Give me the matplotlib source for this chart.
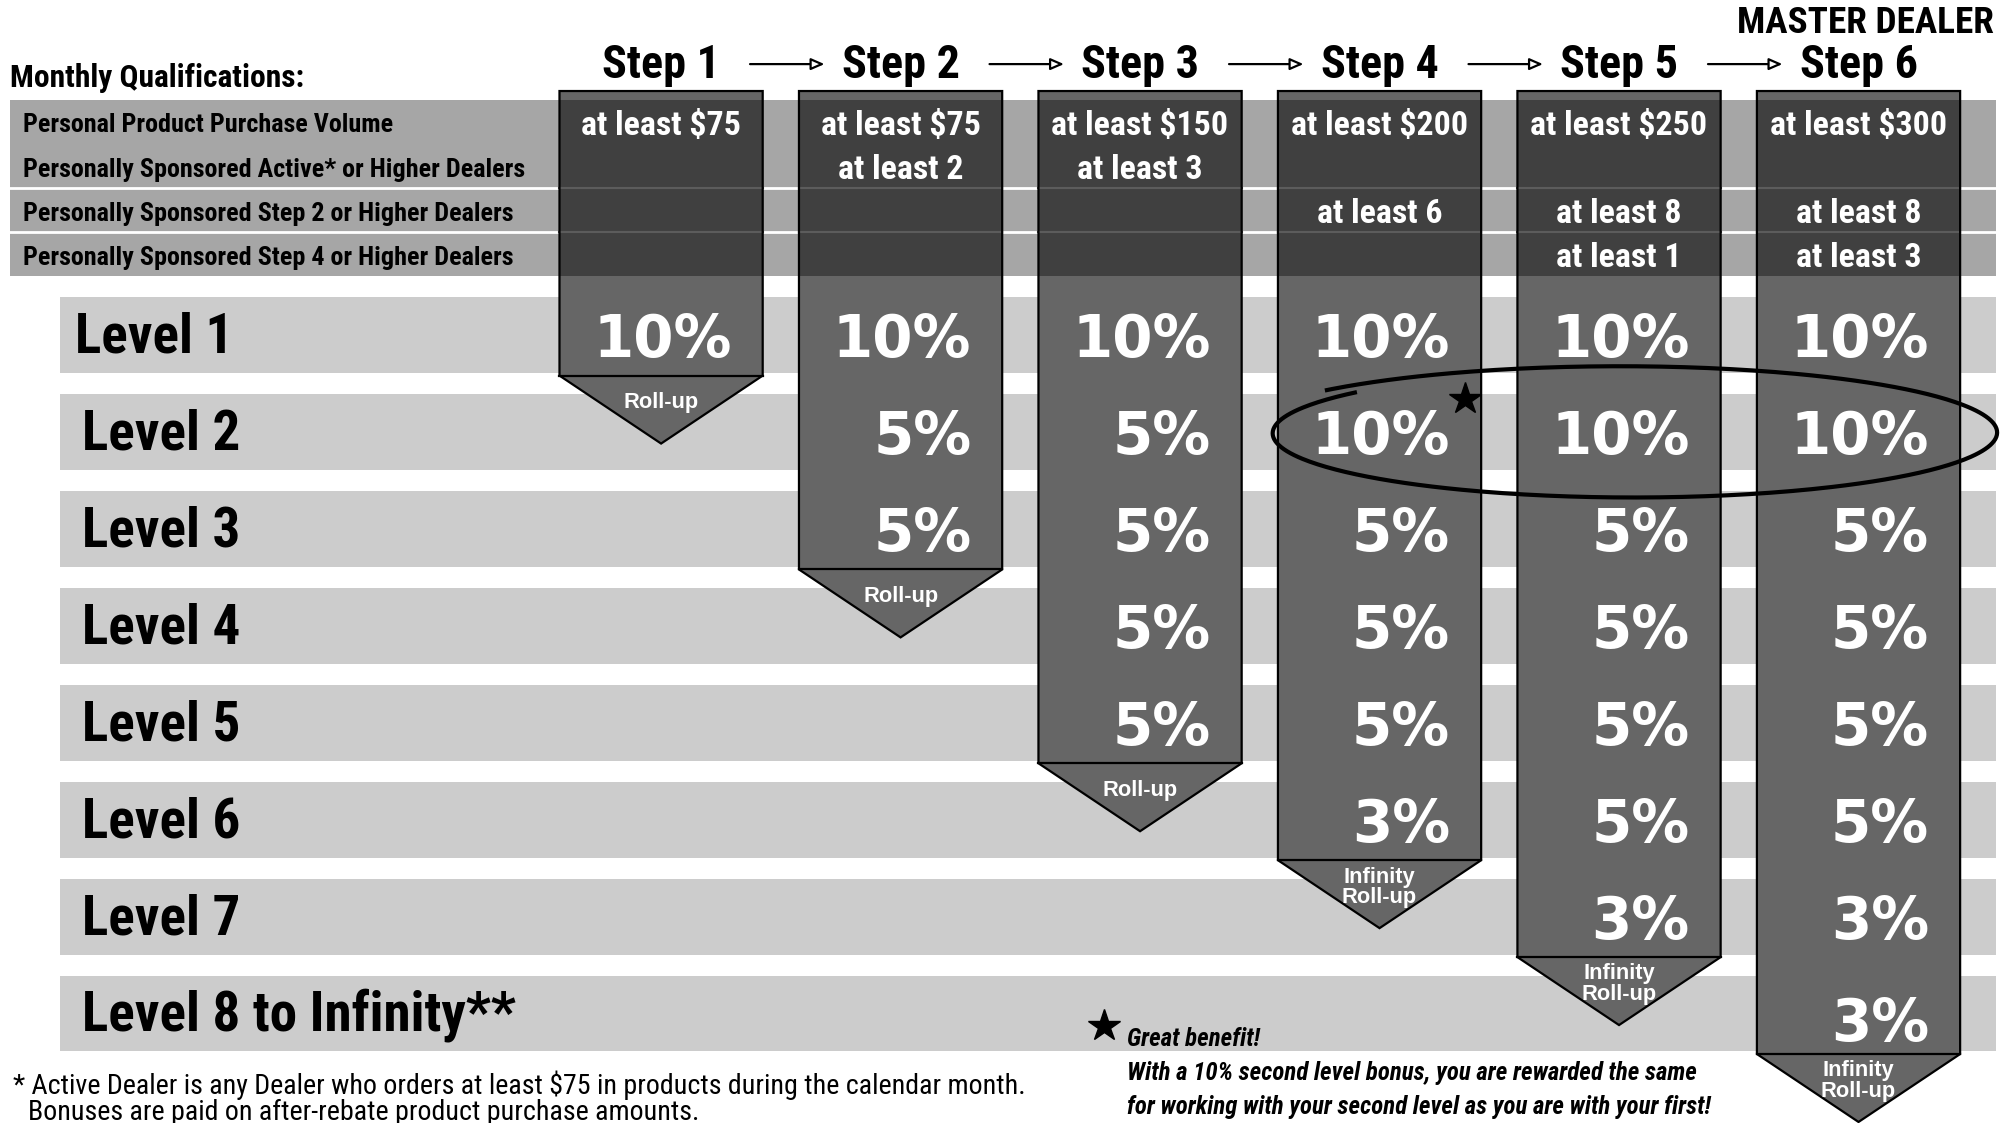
import numpy as np
import matplotlib
matplotlib.use('Agg')
import matplotlib.pyplot as plt
from matplotlib import font_manager as fm
from matplotlib.patches import Polygon, Rectangle

# Data
steps = ['Step 1', 'Step 2', 'Step 3', 'Step 4', 'Step 5', 'Step 6']
qual_labels = ['Personal Product Purchase Volume',
               'Personally Sponsored Active* or Higher Dealers',
               'Personally Sponsored Step 2 or Higher Dealers',
               'Personally Sponsored Step 4 or Higher Dealers']
qual_values = [
    ['at least $75', '', '', ''],
    ['at least $75', 'at least 2', '', ''],
    ['at least $150', 'at least 3', '', ''],
    ['at least $200', '', 'at least 6', ''],
    ['at least $250', '', 'at least 8', 'at least 1'],
    ['at least $300', '', 'at least 8', 'at least 3'],
]
levels = ['Level 1', 'Level 2', 'Level 3', 'Level 4', 'Level 5', 'Level 6',
          'Level 7', 'Level 8 to Infinity**']
step_rates = [
    [10],
    [10, 5, 5],
    [10, 5, 5, 5, 5],
    [10, 10, 5, 5, 5, 3],
    [10, 10, 5, 5, 5, 5, 3],
    [10, 10, 5, 5, 5, 5, 3, 3],
]
rollup = ['Roll-up', 'Roll-up', 'Roll-up', 'Infinity\nRoll-up',
          'Infinity\nRoll-up', 'Infinity\nRoll-up']
footnote = ['* Active Dealer is any Dealer who orders at least $75 in products during the calendar month.',
            'Bonuses are paid on after-rebate product purchase amounts.']
benefit = ['Great benefit!',
           'With a 10% second level bonus, you are rewarded the same',
           'for working with your second level as you are with your first!']

# Fonts: use a condensed face if one is installed, otherwise shrink to fit
ttf = fm.fontManager.ttflist
names = {f.name for f in ttf}


def pick_condensed(fallback):
    for name in ['Roboto Condensed', 'Liberation Sans Narrow', 'Open Sans Condensed',
                 'Noto Sans Condensed', 'DejaVu Sans Condensed']:
        if name in names:
            return dict(family=name)
    for fam in ['Noto Sans', 'Roboto', 'Open Sans', 'DejaVu Sans']:
        if any(f.name == fam and f.stretch in ('condensed', 'semi-condensed') for f in ttf):
            return dict(family=fam, fontstretch='condensed')
    return dict(family=fallback)


narrow = pick_condensed('Liberation Sans')
head = dict(pick_condensed('DejaVu Sans'), fontweight='bold')
SC = 2009 / 1562


def pt(p):
    # size given in reference pixels -> points
    return p * SC * 0.72


fig = plt.figure(figsize=(20.09, 11.23), dpi=100)
ax = fig.add_axes([0, 0, 1, 1])
ax.set_xlim(0, 1562)
ax.set_ylim(876, 0)
ax.axis('off')
renderer = fig.canvas.get_renderer()


def fit(s, size_px, target_w, **kw):
    # font size (pt) no wider than target_w reference pixels
    t = ax.text(0, 0, s, fontsize=pt(size_px), **kw)
    w = t.get_window_extent(renderer).width / SC
    t.remove()
    return pt(size_px) * min(1.0, target_w / w)


col_w = 158
col_x0 = [435 + i * 186.2 for i in range(6)]
centers = [x + col_w / 2 for x in col_x0]
lev_top = [232 + i * 75.6 for i in range(8)]
lev_h = 59
band_r = 1552

qual_kw = dict(narrow, fontweight='bold')
roll_kw = dict(family='Liberation Sans', fontweight='bold')
fs_head = fit('Step 1', 37, 92, **head)
fs_level = fit('Level 8 to Infinity**', 43, 337, **head)
fs_qlab = fit(qual_labels[1], 21, 390, **qual_kw)
fs_qval = fit('at least $300', 29, 138, **qual_kw)
fs_roll = fit('Roll-up', 17, 60, **roll_kw)
fs_foot = fit(footnote[0], 22, 786, **narrow)
ben_kw = dict(narrow, fontweight='bold', style='italic')
fs_ben = fit(benefit[2], 22, 454, **ben_kw)

# qualification band
ax.add_patch(Rectangle((8, 78), band_r - 8, 137, fc='#a6a6a6', ec='none', zorder=1))
for y in (147, 181):
    ax.plot([8, band_r], [y, y], color='white', lw=2, zorder=1.5)
ax.text(8, 68, 'Monthly Qualifications:', color='black',
        fontsize=fit('Monthly Qualifications:', 26, 229, **head), **head)
for i, lab in enumerate(qual_labels):
    ax.text(18, 103 + i * 34.7, lab, fontsize=fs_qlab, color='black', zorder=2, **qual_kw)

# level bands
for i, lab in enumerate(levels):
    ax.add_patch(Rectangle((47, lev_top[i]), band_r - 47, lev_h, fc='#cccccc', ec='none', zorder=1))
    ax.text(58 if i == 0 else 64, lev_top[i] + 43, lab, fontsize=fs_level,
            color='black', zorder=2, **head)

# step columns
for s in range(6):
    x0, x1, cx = col_x0[s], col_x0[s] + col_w, centers[s]
    n = len(step_rates[s])
    bottom = lev_top[n - 1] + lev_h + 2
    tip = bottom + 53
    poly = [(x0, 71), (x1, 71), (x1, bottom), (cx, tip), (x0, bottom)]
    ax.add_patch(Polygon(poly, closed=True, fc='#666666', ec='none', zorder=3))
    ax.add_patch(Rectangle((x0, 78), col_w, 137, fc='#404040', ec='none', zorder=3.2))
    for y in (147, 181):
        ax.plot([x0, x1], [y, y], color='#5c5c5c', lw=1.5, zorder=3.3)
    ax.add_patch(Polygon(poly, closed=True, fc='none', ec='black', lw=1.6, zorder=3.5))
    ax.plot([x0, x1], [bottom, bottom], color='black', lw=1.6, zorder=3.5)

    # header + arrows
    ax.text(cx, 61, steps[s], ha='center', fontsize=fs_head, color='black', **head)
    if s < 5:
        ax.annotate('', xy=(centers[s + 1] - 57, 50), xytext=(cx + 67, 50),
                    arrowprops=dict(arrowstyle='-|>,head_length=0.8,head_width=0.35',
                                    fc='white', ec='black', lw=1.6))

    # qualification values
    for r, v in enumerate(qual_values[s]):
        if v:
            ax.text(cx, 105 + r * 34.5, v, ha='center', fontsize=fs_qval,
                    color='white', zorder=4, **qual_kw)

    # rates
    for r, v in enumerate(step_rates[s]):
        ax.text(cx + 55, lev_top[r] + 29.5 + (21 if r == 7 else 17), '%d%%' % v,
                ha='right', family='DejaVu Sans', fontweight='bold',
                fontsize=pt(45), color='white', zorder=4)

    # roll-up
    ax.text(cx, bottom + 21, rollup[s], ha='center', va='center', fontsize=fs_roll,
            color='white', zorder=4, linespacing=0.95, **roll_kw)

ax.text(1550, 26, 'MASTER DEALER', ha='right', color='black',
        fontsize=fit('MASTER DEALER', 29, 205, **head), **head)

# hand-drawn ellipse around level 2 of steps 4-6
th = np.linspace(np.radians(220), np.radians(-142), 400)
t = (np.radians(220) - th) / np.radians(362)
scale = 1 + 0.085 * t ** 4
ex = 1269.5 + 280 * scale * np.cos(th)
ey = 338 + 50 * scale * np.sin(th)
ax.plot(ex, ey, color='black', lw=3.0, zorder=5, solid_capstyle='butt')
ax.plot([1139], [311], marker='*', color='black', ms=24, zorder=5)

# footer
ax.text(10, 853, footnote[0], fontsize=fs_foot, color='black', **narrow)
ax.text(22, 874, footnote[1], fontsize=fs_foot, color='black', **narrow)
ax.plot([858], [800], marker='*', color='black', ms=24)
for i, line in enumerate(benefit):
    ax.text(876, 816 + i * 26.5, line, fontsize=fs_ben, color='black', **ben_kw)

fig.savefig('out.png', dpi=100)
